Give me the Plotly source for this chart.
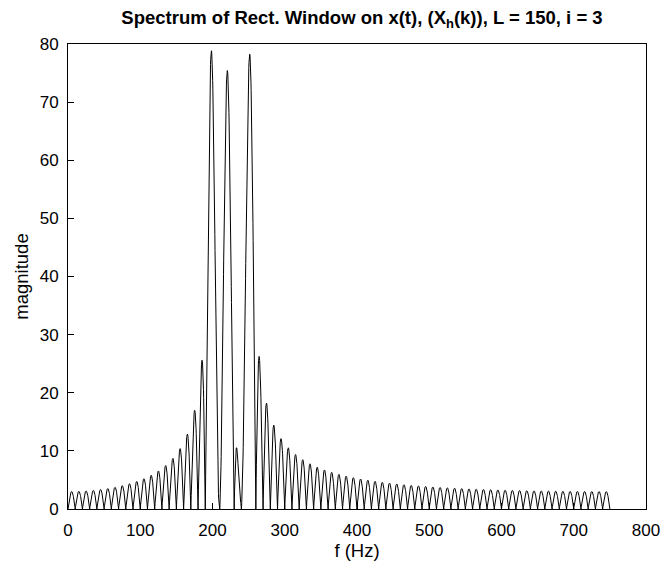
import numpy as np
import plotly.graph_objects as go

# Signal parameters
fs = 1500.0                      # sampling rate (Hz), plot spans 0..fs/2
L = 150                          # rectangular window length
tone_freqs = [200.0, 220.0, 250.0]      # Hz
tone_amps = [1.0, 1.0, 1.0]
tone_phases = [0.0, 0.0, 0.0]

x_ticks = [0, 100, 200, 300, 400, 500, 600, 700, 800]
y_ticks = [0, 10, 20, 30, 40, 50, 60, 70, 80]

n = np.arange(L)
x = np.zeros(L)
for f0, a, p in zip(tone_freqs, tone_amps, tone_phases):
    x += a * np.cos(2 * np.pi * f0 * n / fs + p)

freqs = np.linspace(0, fs / 2, 3001)
E = np.exp(-2j * np.pi * np.outer(freqs, n) / fs)
mag = np.abs(E @ x)

FONT = "Liberation Sans, Arial, Helvetica"

fig = go.Figure()
fig.add_trace(go.Scatter(x=freqs, y=mag, mode="lines",
                         line=dict(color="black", width=1), showlegend=False,
                         hoverinfo="skip"))

axis_common = dict(showgrid=False, zeroline=False, showline=True, mirror=True,
                   linecolor="black", linewidth=1, ticks="inside", ticklen=6,
                   tickcolor="black", tickfont=dict(family=FONT, size=17, color="black"))

fig.update_layout(
    width=672, height=568,
    margin=dict(l=68, r=16, t=44, b=59),
    paper_bgcolor="white", plot_bgcolor="white",
    title=dict(text="<b>Spectrum of Rect. Window on x(t), (X<sub>h</sub>(k)), L = 150, i = 3</b>",
               x=(68 + 656) / 2 / 672, xanchor="center", y=1 - 18 / 568, yanchor="middle",
               font=dict(family=FONT, size=18.5, color="black")),
    xaxis=dict(range=[0, 800], tickvals=x_ticks, ticklabelstandoff=6,
               title=dict(text="f (Hz)", standoff=2,
                          font=dict(family=FONT, size=18.5, color="black")),
               **axis_common),
    yaxis=dict(range=[0, 80], tickvals=y_ticks, ticklabelstandoff=5,
               title=dict(text="magnitude", standoff=6,
                          font=dict(family=FONT, size=18.5, color="black")),
               **axis_common),
)

fig.write_html("out.html")
